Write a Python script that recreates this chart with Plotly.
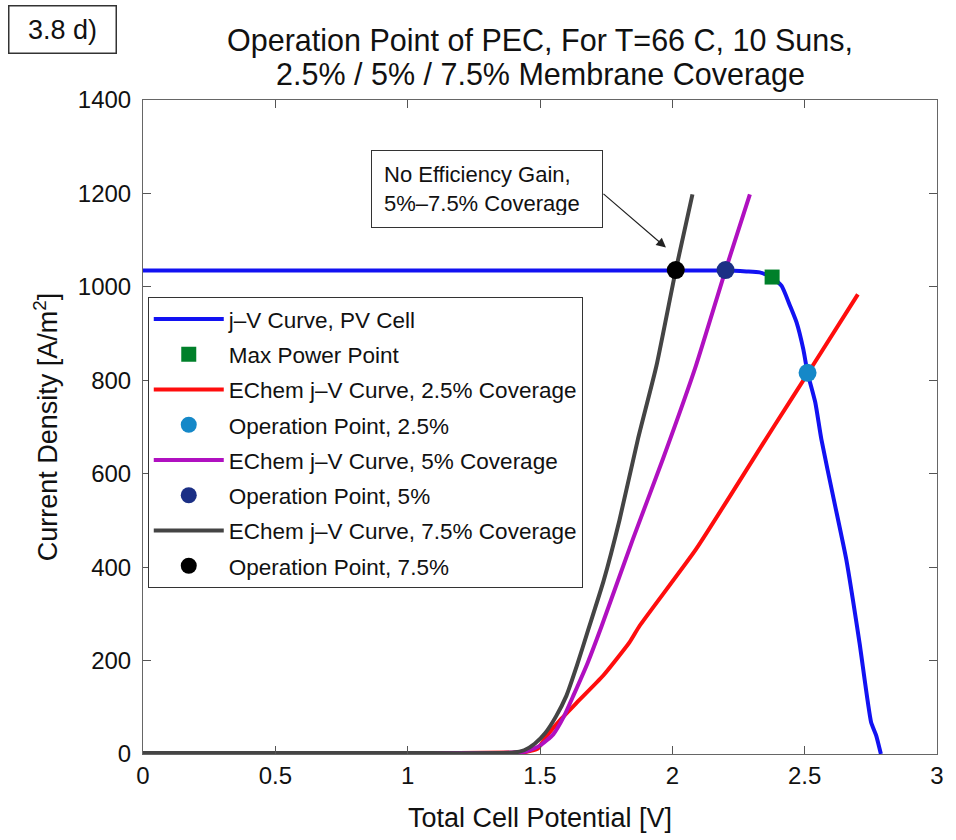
import plotly.graph_objects as go

# ---------------- data ----------------
pv_v = [0, 0.5, 1.0, 1.5, 2.0, 2.2, 2.28, 2.33, 2.377, 2.413, 2.445, 2.47, 2.495,
        2.511, 2.54, 2.563, 2.61, 2.657, 2.707, 2.751, 2.77, 2.788]
pv_j = [1035, 1035, 1035, 1035, 1035, 1035, 1033, 1031, 1021, 1002, 959, 923, 866,
        816, 753, 674, 545, 417, 239, 68, 40, 0]

red_v = [0, 0.5, 1.0, 1.40, 1.45, 1.49, 1.526, 1.58, 1.639, 1.739, 1.838,
         1.876, 2.089, 2.301, 2.389, 2.511, 2.701]
red_j = [2, 2, 2, 3, 5, 11, 39, 75, 110, 168, 239, 274, 438, 627, 706, 814, 984]

mag_v = [0, 0.5, 1.0, 1.40, 1.45, 1.50, 1.55, 1.59, 1.626, 1.68, 1.733, 1.851,
         1.964, 2.089, 2.201, 2.293]
mag_j = [2, 2, 2, 3, 6, 18, 42, 80, 125, 195, 274, 460, 631, 831, 1036, 1198]

gry_v = [0, 0.5, 1.0, 1.40, 1.44, 1.48, 1.52, 1.56, 1.60, 1.64, 1.68, 1.74, 1.80,
         1.87, 1.94, 2.013, 2.076]
gry_j = [2, 2, 2, 3, 8, 22, 45, 80, 125, 190, 262, 370, 500, 674, 831, 1036, 1198]

mpp = (2.377, 1021)
op25 = (2.511, 816)
op5 = (2.201, 1036)
op75 = (2.013, 1036)

x_ticks = [0, 0.5, 1, 1.5, 2, 2.5, 3]
x_ticktext = ["0", "0.5", "1", "1.5", "2", "2.5", "3"]
y_ticks = [0, 200, 400, 600, 800, 1000, 1200, 1400]

title_line1 = "Operation Point of PEC, For T=66 C, 10 Suns,"
title_line2 = "2.5% / 5% / 7.5% Membrane Coverage"

FONT = "Liberation Sans, Arial, Helvetica, sans-serif"

fig = go.Figure()

def line(x, y, color, name, grp):
    fig.add_trace(go.Scatter(x=x, y=y, mode="lines", name=name, legendgroup=grp,
                             line=dict(color=color, width=4, shape="spline",
                                       smoothing=0.5)))

def point(p, color, name, grp, symbol="circle", size=18):
    fig.add_trace(go.Scatter(x=[p[0]], y=[p[1]], mode="markers", name=name,
                             legendgroup=grp,
                             marker=dict(color=color, size=size, symbol=symbol,
                                         line=dict(width=0))))

line(pv_v, pv_j, "#1212f2", "j\u2013V Curve, PV Cell", "g1")
point(mpp, "#00802a", "Max Power Point", "g2", symbol="square", size=15)
line(red_v, red_j, "#ff0d0d", "EChem j\u2013V Curve, 2.5% Coverage", "g3")
point(op25, "#1588c8", "Operation Point, 2.5%", "g4")
line(mag_v, mag_j, "#b010c0", "EChem j\u2013V Curve, 5% Coverage", "g5")
point(op5, "#1b2f85", "Operation Point, 5%", "g6")
line(gry_v, gry_j, "#444444", "EChem j\u2013V Curve, 7.5% Coverage", "g7")
point(op75, "#000000", "Operation Point, 7.5%", "g8")

fig.update_layout(
    width=956, height=840,
    margin=dict(l=143, r=13, t=100, b=85),
    paper_bgcolor="white", plot_bgcolor="white",
    font=dict(family=FONT, color="#111111", size=24),
    title=dict(text=title_line1,
               x=0.5, xref="paper", xanchor="center", y=0.9524, yanchor="middle",
               font=dict(size=30.5, family=FONT, color="#111111")),
    legend=dict(x=0.006, y=0.699, xanchor="left", yanchor="top",
                bgcolor="white", bordercolor="#333333", borderwidth=1,
                font=dict(size=22.5, family=FONT, color="#111111"),
                tracegroupgap=3, traceorder="grouped", itemwidth=70),
    showlegend=True,
)

# second title line
fig.add_annotation(x=0.5, y=1.0389, xref="paper", yref="paper", showarrow=False,
                   text=title_line2, xanchor="center", yanchor="middle",
                   font=dict(size=30.5, family=FONT, color="#111111"))

fig.update_xaxes(range=[0, 3], tickvals=x_ticks, ticktext=x_ticktext,
                 ticks="inside", ticklen=8, tickcolor="#555555",
                 showline=True, linecolor="#666666", linewidth=1, mirror="ticks",
                 showgrid=False, zeroline=False,
                 tickfont=dict(size=24, family=FONT),
                 title=dict(text="Total Cell Potential [V]", standoff=20,
                            font=dict(size=27, family=FONT)))
fig.update_yaxes(range=[0, 1400], tickvals=y_ticks,
                 ticks="inside", ticklen=8, tickcolor="#555555",
                 showline=True, linecolor="#666666", linewidth=1, mirror="ticks",
                 showgrid=False, zeroline=False, ticklabelstandoff=6,
                 tickfont=dict(size=24, family=FONT),
                 title=dict(text="Current Density [A/m<sup>2</sup>]", standoff=12,
                            font=dict(size=27, family=FONT)))

# annotation text box
fig.add_annotation(x=1.30, y=1210, xref="x", yref="y", showarrow=False,
                   text="No Efficiency Gain,<br>5%\u20137.5% Coverage",
                   align="left", xanchor="center", yanchor="middle",
                   width=206, height=52, borderpad=12,
                   bordercolor="#333333", borderwidth=1, bgcolor="white",
                   font=dict(size=22, family=FONT, color="#111111"))
# arrow
fig.add_annotation(x=1.976, y=1084, xref="x", yref="y", ax=-64, ay=-55,
                   text="", showarrow=True, arrowhead=2, arrowsize=1.6,
                   arrowwidth=1.2, arrowcolor="#222222", standoff=0)

# figure label box
fig.add_annotation(x=-0.102, y=1.108, xref="paper", yref="paper", showarrow=False,
                   text="3.8 d)", xanchor="center", yanchor="middle",
                   width=100, height=40, borderpad=3, align="center",
                   bordercolor="#333333", borderwidth=1.5, bgcolor="white",
                   font=dict(size=27, family=FONT, color="#111111"))

fig.write_html("out.html")
